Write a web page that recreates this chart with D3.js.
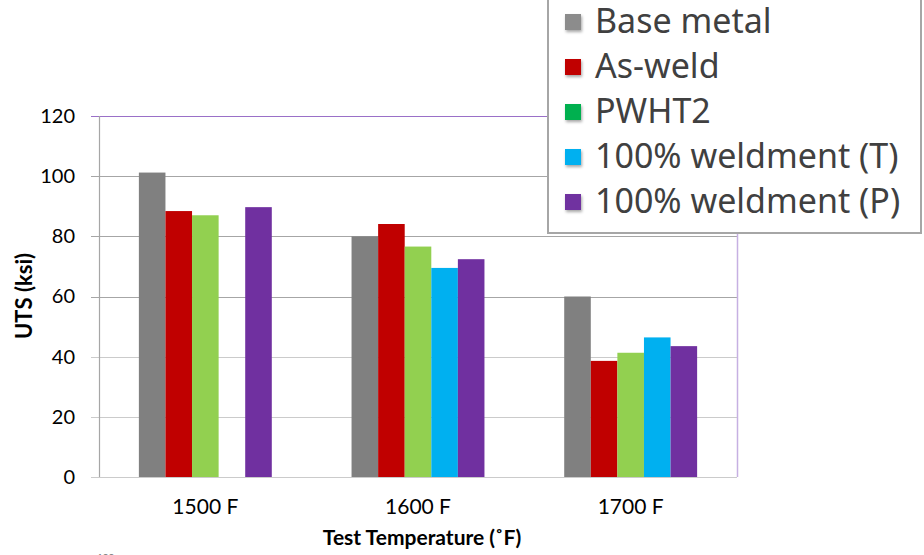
<!DOCTYPE html>
<html>
<head>
<meta charset="utf-8">
<script src="https://cdn.jsdelivr.net/npm/d3@7"></script>
<style>
    body { margin: 0; background: #fff; }
    svg { display: block; }
</style>
</head>
<body>
<div id="chart"></div>
<script>
// values
let categories = ['1500 F', '1600 F', '1700 F'];
let seriesNames = ['Base metal', 'As-weld', 'PWHT2', '100% weldment (T)', '100% weldment (P)'];
let baseMetal = [101.2, 80, 60];
let asWeld = [88.4, 84.1, 38.6];
let pwht2 = [87, 76.6, 41.3];
let weldmentT = [null, 69.5, 46.4];
let weldmentP = [89.7, 72.4, 43.5];
let yTicks = [0, 20, 40, 60, 80, 100, 120];

let barColors = ['#808080', '#c00000', '#92d050', '#00b0f0', '#7030a0'];
let legendColors = ['#8c8c8c', '#c00000', '#00b050', '#00b0f0', '#7030a0'];

let chartWidth = 924,
    chartHeight = 555,
    margin = {left: 99, top: 116, right: 187, bottom: 78},
    plotWidth = chartWidth - margin.left - margin.right,
    plotHeight = chartHeight - margin.top - margin.bottom,
    labelFont = 'Lato, "Noto Sans", sans-serif';

let allSeries = [baseMetal, asWeld, pwht2, weldmentT, weldmentP];

let svg = d3.select('#chart').append('svg')
    .attr('width', chartWidth)
    .attr('height', chartHeight)
    .style('font-family', labelFont);

let defs = svg.append('defs');
defs.append('filter')
    .attr('id', 'markShadow')
    .attr('x', '-50%').attr('y', '-50%')
    .attr('width', '200%').attr('height', '200%')
    .append('feDropShadow')
    .attr('dx', 1).attr('dy', 2)
    .attr('stdDeviation', 1.5)
    .attr('flood-color', '#000')
    .attr('flood-opacity', 0.35);

let g = svg.append('g')
    .attr('transform', `translate(${margin.left}, ${margin.top})`);

let x0 = d3.scaleBand()
    .domain(categories)
    .range([0, plotWidth])
    .paddingInner(0.375)
    .paddingOuter(0.1875);

let x1 = d3.scaleBand()
    .domain(seriesNames)
    .range([0, x0.bandwidth()]);

let y = d3.scaleLinear()
    .domain([0, 120])
    .range([plotHeight, 0]);

// gridlines, with the small outer tick on the left
g.append('g')
    .attr('class', 'grid')
    .selectAll('line')
    .data(yTicks)
    .join('line')
    .attr('x1', -8)
    .attr('x2', plotWidth)
    .attr('y1', d => Math.round(y(d)) + 0.5)
    .attr('y2', d => Math.round(y(d)) + 0.5)
    .attr('stroke', d => d === 120 ? '#9a70c8' : (d >= 60 ? '#a6a6a6' : '#cbcbcb'))
    .attr('stroke-width', 1.2);

// right border of the plot area
g.append('line')
    .attr('x1', plotWidth + 0.5)
    .attr('x2', plotWidth + 0.5)
    .attr('y1', 0)
    .attr('y2', plotHeight)
    .attr('stroke', '#c6b0e2')
    .attr('stroke-width', 1.5);

// left axis line
g.append('line')
    .attr('x1', 0.5)
    .attr('x2', 0.5)
    .attr('y1', 0)
    .attr('y2', plotHeight)
    .attr('stroke', '#a6a6a6')
    .attr('stroke-width', 1.2);

let yAxis = g.append('g')
    .call(d3.axisLeft(y).tickValues(yTicks).tickSize(0).tickPadding(24));
yAxis.select('.domain').remove();
yAxis.selectAll('text')
    .style('font-family', labelFont)
    .style('font-size', '20px')
    .attr('fill', '#000');

let xAxis = g.append('g')
    .attr('transform', `translate(0, ${plotHeight})`)
    .call(d3.axisBottom(x0).tickSize(0).tickPadding(22));
xAxis.select('.domain').remove();
xAxis.selectAll('text')
    .style('font-family', labelFont)
    .style('font-size', '21px')
    .attr('fill', '#000');

// bars
let groups = g.append('g')
    .selectAll('.group')
    .data(categories)
    .join('g')
    .attr('class', 'group')
    .attr('transform', d => `translate(${x0(d)}, 0)`);

groups.selectAll('rect')
    .data((c, ci) => seriesNames.map((s, si) => ({series: s, idx: si, value: allSeries[si][ci]}))
        .filter(d => d.value !== null))
    .join('rect')
    .attr('x', d => x1(d.series))
    .attr('width', x1.bandwidth())
    .attr('y', d => y(d.value))
    .attr('height', d => plotHeight - y(d.value))
    .attr('fill', d => barColors[d.idx]);

// axis titles
svg.append('text')
    .attr('transform', `translate(32, ${margin.top + 180}) rotate(-90)`)
    .attr('text-anchor', 'middle')
    .style('font-size', '22px')
    .style('font-weight', 'bold')
    .attr('fill', '#000')
    .text('UTS (ksi)');

svg.append('text')
    .attr('x', margin.left + plotWidth / 2 + 4)
    .attr('y', 545)
    .attr('text-anchor', 'middle')
    .style('font-size', '21px')
    .style('font-weight', 'bold')
    .attr('fill', '#000')
    .text('Test Temperature (˚F)');

// cut-off footnote at the bottom edge
svg.append('text')
    .attr('x', 97)
    .attr('y', 561)
    .style('font-size', '10px')
    .attr('fill', '#777')
    .text('100');

// legend box, its top runs off the picture
let legend = svg.append('g')
    .attr('class', 'legend');

legend.append('rect')
    .attr('x', 548)
    .attr('y', -10)
    .attr('width', 373)
    .attr('height', 243)
    .attr('fill', '#fff')
    .attr('stroke', '#a6a6a6')
    .attr('stroke-width', 2);

let legendRow = legend.selectAll('.row')
    .data(seriesNames)
    .join('g')
    .attr('class', 'row')
    .attr('transform', (d, i) => `translate(565, ${33 + i * 45})`);

legendRow.append('rect')
    .attr('x', 0)
    .attr('y', -19)
    .attr('width', 16)
    .attr('height', 16)
    .attr('fill', (d, i) => legendColors[i])
    .attr('filter', 'url(#markShadow)');

legendRow.append('text')
    .attr('x', 30)
    .attr('y', 0)
    .style('font-family', '"Noto Sans", sans-serif')
    .style('font-size', '34px')
    .attr('fill', '#404040')
    .text(d => d);
</script>
</body>
</html>
